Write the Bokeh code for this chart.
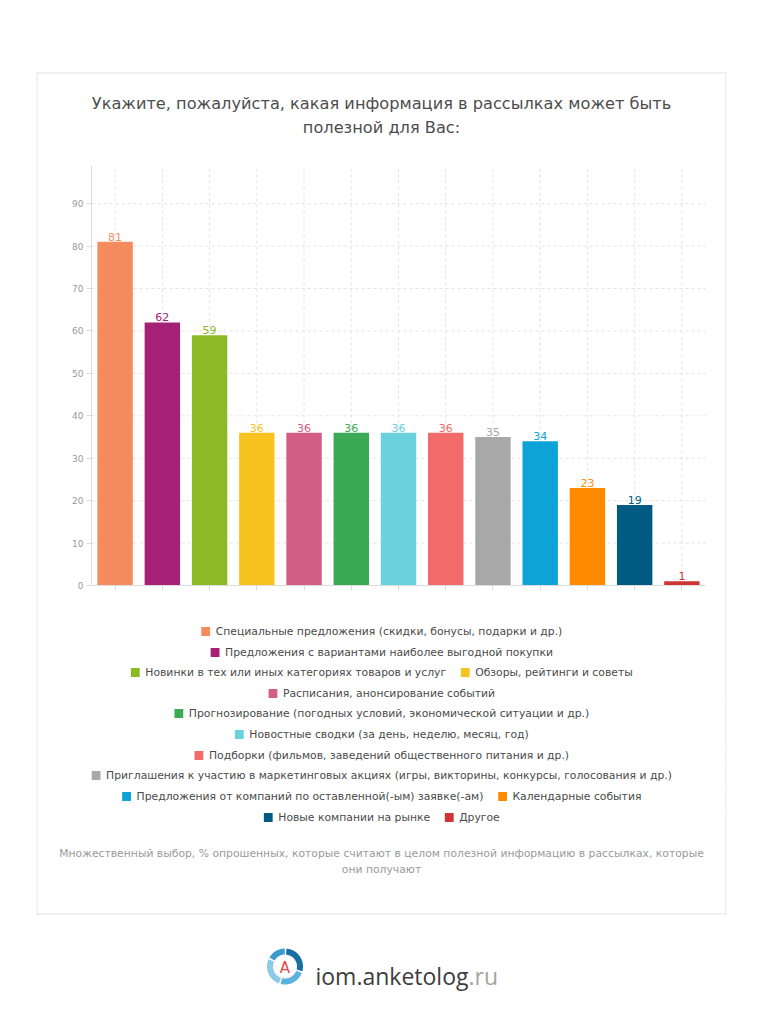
import numpy as np
from bokeh.plotting import figure
from bokeh.models import (ColumnDataSource, Range1d, Legend, LegendItem, FixedTicker, Label,
                          PolyAnnotation)
from bokeh.layouts import column
from bokeh.embed import file_html
from bokeh.resources import INLINE
from bokeh.core.properties import value

FONT = "DejaVu Sans"

title_lines = ["Укажите, пожалуйста, какая информация в рассылках может быть",
               "полезной для Вас:"]
categories = [
    "Специальные предложения (скидки, бонусы, подарки и др.)",
    "Предложения с вариантами наиболее выгодной покупки",
    "Новинки в тех или иных категориях товаров и услуг",
    "Обзоры, рейтинги и советы",
    "Расписания, анонсирование событий",
    "Прогнозирование (погодных условий, экономической ситуации и др.)",
    "Новостные сводки (за день, неделю, месяц, год)",
    "Подборки (фильмов, заведений общественного питания и др.)",
    "Приглашения к участию в маркетинговых акциях (игры, викторины, конкурсы, голосования и др.)",
    "Предложения от компаний по оставленной(-ым) заявке(-ам)",
    "Календарные события",
    "Новые компании на рынке",
    "Другое",
]
values = [81, 62, 59, 36, 36, 36, 36, 36, 35, 34, 23, 19, 1]
bar_colors = ["#F48C5F", "#A52175", "#8DBA24", "#F9C31F", "#D35E85", "#3AAA55", "#69D2DC",
              "#F26A6A", "#A8A8A8", "#0EA3D6", "#FF8A00", "#005B82", "#D03535"]
legend_rows = [[0], [1], [2, 3], [4], [5], [6], [7], [8], [9, 10], [11, 12]]
y_ticks = [0, 10, 20, 30, 40, 50, 60, 70, 80, 90]
y_max = 99
footnote_lines = ["Множественный выбор, % опрошенных, которые считают в целом полезной информацию в рассылках, которые",
                  "они получают"]
logo_main = "iom.anketolog"
logo_tld = ".ru"
logo_letter = "A"

# ---- layout constants (page pixels) ----
W = 762
FL, FR = 36, 726            # frame left/right of every figure (symmetric about page centre 381)
AXIS_X, PLOT_R = 91, 705    # value axis position / right end of category axis
CHART_TOP, CHART_BOTTOM = 165, 585
TOP_FIG_H = 618
TOP_BORDER = 30             # room for the (hidden-label) category axis panel
ROW_BOUNDS = [618, 644, 660, 684, 702, 724, 744, 766, 784, 808, 826]
BOTTOM_FIG_TOP = 826
CARD = (36, 72, 726, 914)   # left, top, right, bottom (outer edge of 1px border)
BORDER = "#e2e2e2"
GRID = "#e3e3e3"

n = len(categories)
xs = list(range(n))
px_per_cat = (PLOT_R - AXIS_X) / n
x_start = -0.5 - (AXIS_X - FL) / px_per_cat
x_end = n - 0.5 + (FR - PLOT_R) / px_per_cat
px_per_unit = (CHART_BOTTOM - CHART_TOP) / y_max
y_lo = -(TOP_FIG_H - CHART_BOTTOM) / px_per_unit
y_hi = (CHART_BOTTOM - TOP_BORDER) / px_per_unit

src = ColumnDataSource(dict(x=xs, val=values, color=bar_colors, lbl=[str(v) for v in values]))
hgrid_src = ColumnDataSource(dict(y=y_ticks))
vgrid_src = ColumnDataSource(dict(x=xs))


def make_fig(height, y_range=None, **kw):
    f = figure(width=W, height=height, x_range=Range1d(x_start, x_end),
               y_range=y_range or Range1d(1000, 1001),
               min_border_left=FL, min_border_right=W - FR, output_backend="svg",
               toolbar_location=None, **kw)
    f.outline_line_color = None
    return f


def add_box(f, fb, x0, y0, x1, y1, color):
    """filled rectangle in page pixels (screen units relative to the frame; fb = frame bottom)"""
    pxs = [x0, x1, x1, x0]
    pys = [y0, y0, y1, y1]
    f.add_layout(PolyAnnotation(xs=[v - FL for v in pxs], ys=[fb - v for v in pys],
                                xs_units="screen", ys_units="screen", fill_color=color, fill_alpha=1,
                                line_color=None))


def add_label(f, fb, text, px, py, size, color, align="center", baseline="middle", font=FONT):
    f.add_layout(Label(x=px - FL, y=fb - py, x_units="screen", y_units="screen",
                       text=text, text_align=align, text_baseline=baseline, text_font=font,
                       text_font_size=size, text_color=color))


def card_sides(f, fb, top, bottom):
    add_box(f, fb, CARD[0], top, CARD[0] + 1, bottom, BORDER)
    add_box(f, fb, CARD[2] - 1, top, CARD[2], bottom, BORDER)


# ================= top figure: title + chart =================
p = make_fig(TOP_FIG_H, y_range=Range1d(y_lo, y_hi), x_axis_location="above",
             min_border_top=TOP_BORDER, min_border_bottom=0)
p.segment(x0=-0.5, x1=n - 0.5, y0="y", y1="y", source=hgrid_src, line_color=GRID,
          line_dash="3 3", line_width=1, level="underlay")
p.segment(x0="x", x1="x", y0=0, y1=y_max, source=vgrid_src, line_color=GRID,
          line_dash="3 3", line_width=1, level="underlay")
bars = p.vbar(x="x", top="val", width=0.75, source=src, fill_color="color", line_color=None)
p.text(x="x", y="val", text="lbl", source=src, text_color="color", text_align="center",
       text_baseline="bottom", y_offset=-1, text_font=value(FONT), text_font_size="11px")

p.yaxis.fixed_location = -0.5
p.yaxis.bounds = (0, y_max)
p.yaxis.ticker = FixedTicker(ticks=y_ticks)
p.yaxis.major_label_text_font = FONT
p.yaxis.major_label_text_font_size = "9px"
p.yaxis.major_label_text_color = "#999999"
p.yaxis.major_label_standoff = 3
p.yaxis.major_tick_in = 0
p.yaxis.major_tick_out = 5
p.xaxis.fixed_location = 0
p.xaxis.ticker = FixedTicker(ticks=xs)
p.xaxis.bounds = (-0.5, n - 0.5)
p.xaxis.major_label_text_color = None
p.xaxis.major_tick_in = 5          # axis lives in the "above" panel: "in" points downward
p.xaxis.major_tick_out = 0
for ax in (p.xaxis, p.yaxis):
    ax.axis_line_color = "#dcdcdc"
    ax.major_tick_line_color = "#dcdcdc"
    ax.minor_tick_line_color = None
p.grid.visible = False

add_box(p, TOP_FIG_H, CARD[0], CARD[1], CARD[2], CARD[1] + 1, BORDER)
card_sides(p, TOP_FIG_H, CARD[1], TOP_FIG_H)
add_label(p, TOP_FIG_H, title_lines[0], 381, 103, "16.2px", "#4d4d4d")
add_label(p, TOP_FIG_H, title_lines[1], 381, 127, "16.2px", "#4d4d4d")

# ================= legend rows =================
figs = [p]
for r, idxs in enumerate(legend_rows):
    top, bottom = ROW_BOUNDS[r], ROW_BOUNDS[r + 1]
    lf = make_fig(bottom - top, min_border_top=0, min_border_bottom=0)
    lr = lf.vbar(x="x", top="val", width=0.75, source=src, fill_color="color", line_color=None)
    lf.axis.visible = False
    lf.grid.visible = False
    items = [LegendItem(label=categories[i], renderers=[lr], index=i) for i in idxs]
    lf.add_layout(Legend(items=items, orientation="horizontal", location="center",
                         label_text_font=FONT, label_text_font_size="10.8px", label_text_color="#4a4a4a",
                         glyph_width=11, glyph_height=11, label_height=11, label_standoff=5, spacing=13,
                         padding=0, margin=0, border_line_color=None, background_fill_alpha=0))
    card_sides(lf, bottom, top, bottom)
    figs.append(lf)

# ================= bottom figure: footnote, card bottom, logo =================
bf = make_fig(1024 - BOTTOM_FIG_TOP, min_border_top=0, min_border_bottom=0)
bf.axis.visible = False
bf.grid.visible = False
bf.vbar(x="x", top="val", width=0.75, source=src, fill_color="color", line_color=None)
FB2 = 1024
card_sides(bf, FB2, BOTTOM_FIG_TOP, CARD[3])
add_box(bf, FB2, CARD[0], CARD[3] - 1, CARD[2], CARD[3], BORDER)
add_label(bf, FB2, footnote_lines[0], 381, 853, "10.8px", "#9a9a9a")
add_label(bf, FB2, footnote_lines[1], 381, 869, "10.8px", "#9a9a9a")

cx, cy = 284.5, 966
for a0, a1, col in [(-15, 85, "#186fa0"), (91, 150, "#3b9ad0"), (156, 250, "#8ccbe7"), (256, 339, "#5bb2dc")]:
    t = np.radians(np.linspace(a0, a1, 30))
    pxs = np.concatenate([cx + 18 * np.cos(t), cx + 12 * np.cos(t[::-1])])
    pys = np.concatenate([cy - 18 * np.sin(t), cy - 12 * np.sin(t[::-1])])
    bf.add_layout(PolyAnnotation(xs=[v - FL for v in pxs], ys=[FB2 - v for v in pys],
                                 xs_units="screen", ys_units="screen", fill_color=col, fill_alpha=1,
                                 line_color=None))
t = np.radians(np.linspace(0, 360, 60))
bf.add_layout(PolyAnnotation(xs=[v - FL for v in cx + 11 * np.cos(t)], ys=[FB2 - v for v in cy - 11 * np.sin(t)],
                             xs_units="screen", ys_units="screen", fill_color="white", fill_alpha=1,
                             line_color="#f3cccc", line_width=1))
add_label(bf, FB2, logo_letter, cx, cy + 1, "15px", "#e8474b")
add_label(bf, FB2, logo_main, 468, 975, "23px", "#3d3d3d", align="right", baseline="alphabetic",
          font="Open Sans")
add_label(bf, FB2, logo_tld, 468, 975, "23px", "#a3a3a3", align="left", baseline="alphabetic",
          font="Open Sans")
figs.append(bf)

open("out.html", "w").write(file_html(column(*figs), INLINE))
